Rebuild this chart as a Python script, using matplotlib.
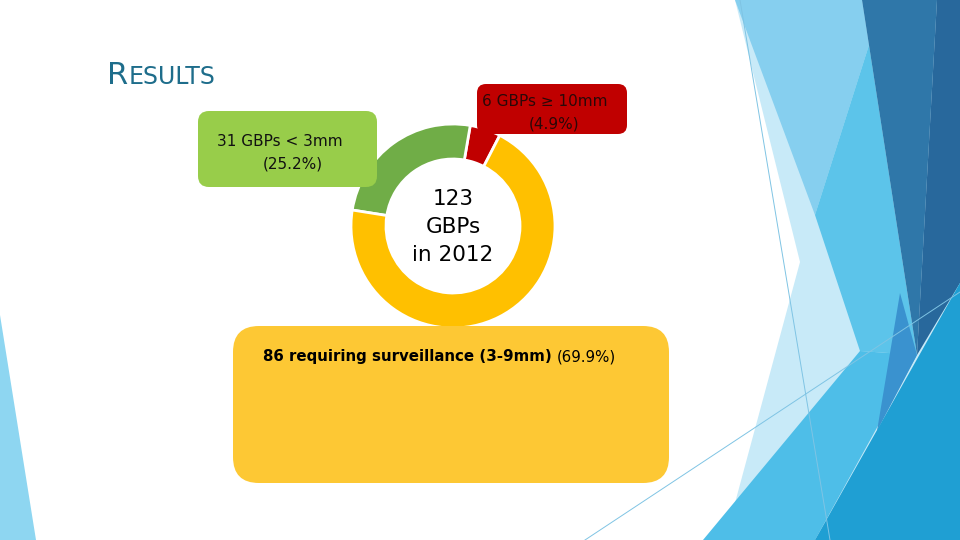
import numpy as np
import matplotlib
matplotlib.use('Agg')
import matplotlib.pyplot as plt
from matplotlib.patches import FancyBboxPatch, Polygon

# data
counts = [6, 31, 86]
slice_colors = ['#C00000', '#70AD47', '#FFC000']
total_lines = ['123', 'GBPs', 'in 2012']
green_lines = ['31 GBPs < 3mm', '(25.2%)']
red_lines = ['6 GBPs \u2265 10mm', '(4.9%)']
yellow_bold = '86 requiring surveillance (3-9mm)'
yellow_pct = '(69.9%)'

plt.rcParams['font.family'] = ['DejaVu Sans']

fig = plt.figure(figsize=(9.6, 5.4), dpi=100)
ax = fig.add_axes([0, 0, 1, 1])

# background facets (right and left edges)
facets = [
    ([(735, 0), (960, 0), (960, 540), (725, 540), (800, 262)], '#C8EAF8'),
    ([(735, 0), (862, 0), (869, 45), (815, 215)], '#86CFEF'),
    ([(815, 215), (869, 45), (917, 355), (860, 351)], '#5CC4EA'),
    ([(862, 0), (937, 0), (917, 355)], '#2F77A9'),
    ([(937, 0), (960, 0), (960, 283), (917, 355)], '#28689C'),
    ([(703, 540), (860, 351), (917, 355), (815, 540)], '#4EBEE8'),
    ([(900, 293), (917, 355), (877, 431)], '#3A92CF'),
    ([(960, 283), (960, 540), (815, 540)], '#1F9FD3'),
    ([(0, 315), (36, 540), (0, 540)], '#8ED6F1'),
]
for pts, col in facets:
    ax.add_patch(Polygon(pts, closed=True, facecolor=col, edgecolor='none', zorder=0))
ax.plot([740, 830], [0, 540], color='#7FC4E4', lw=0.7, zorder=1)
ax.plot([585, 960], [540, 292], color='#7FC4E4', lw=0.7, zorder=1)

# donut (y axis is inverted, so angles run clockwise in data terms)
ax.pie(counts, colors=slice_colors, center=(453, 226), radius=102,
       startangle=-62.7, counterclock=False,
       wedgeprops=dict(width=35, edgecolor='white', linewidth=2))
for w in ax.patches[-3:]:
    w.set_zorder(2)
for txt, yy in zip(total_lines, [199, 227, 255]):
    ax.text(453, yy, txt, ha='center', va='center', fontsize=15.5,
            color='black', zorder=3)

# callout boxes
boxes = [
    ((198, 111), 179, 76, 11, '#98CD4A'),
    ((477, 84), 150, 50, 9, '#C00000'),
    ((233, 326), 436, 157, 26, '#FDC834'),
]
for (x0, y0), w, h, r, col in boxes:
    ax.add_patch(FancyBboxPatch((x0, y0), w, h,
                                boxstyle='round,pad=0,rounding_size=%d' % r,
                                facecolor=col, edgecolor='none', zorder=4))

ax.text(280, 141, green_lines[0], ha='center', va='center', fontsize=11,
        color='#111111', zorder=5)
ax.text(293, 164, green_lines[1], ha='center', va='center', fontsize=11,
        color='#111111', zorder=5)
ax.text(545, 102, red_lines[0], ha='center', va='center', fontsize=11,
        color='#2B0808', zorder=5)
ax.text(554, 124, red_lines[1], ha='center', va='center', fontsize=11,
        color='#2B0808', zorder=5)

ax.set_xlim(0, 960)
ax.set_ylim(540, 0)
ax.set_aspect('auto')
ax.axis('off')

t = ax.text(263, 357, yellow_bold, ha='left', va='center', fontsize=10.8,
            fontweight='bold', color='black', zorder=5)
fig.canvas.draw()
bb = t.get_window_extent().transformed(ax.transData.inverted())
ax.text(bb.x1 + 5, 357, yellow_pct, ha='left', va='center', fontsize=10.8,
        color='black', zorder=5)

# title in small caps
tc = '#1E6D8B'
r = ax.text(107, 84, 'R', ha='left', va='baseline', fontsize=22, color=tc)
fig.canvas.draw()
rb = r.get_window_extent().transformed(ax.transData.inverted())
ax.text(rb.x1, 84, 'ESULTS', ha='left', va='baseline', fontsize=17, color=tc)

fig.savefig('out.png', dpi=100, facecolor='white')
